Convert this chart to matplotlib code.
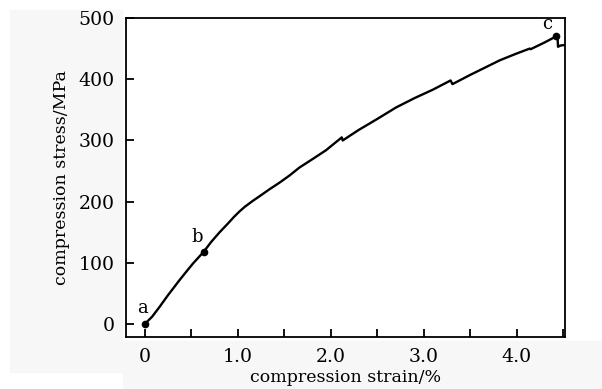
import matplotlib
matplotlib.use('Agg')
import matplotlib.pyplot as plt
from matplotlib.patches import Rectangle
from matplotlib.ticker import MultipleLocator

# stress-strain curve (strain in %, stress in MPa)
strain = [0.0, 0.08, 0.16, 0.25, 0.376, 0.45, 0.52, 0.634, 0.72, 0.806,
          0.9, 0.96, 1.02, 1.08, 1.16, 1.237, 1.34, 1.45, 1.56, 1.667, 1.8, 1.95,
          2.12, 2.13, 2.3, 2.5, 2.705, 2.9, 3.1, 3.29, 3.31, 3.5, 3.7,
          3.82, 4.0, 4.14, 4.15, 4.3, 4.425, 4.44, 4.445, 4.47, 4.52]
stress = [0, 12, 28, 47, 72, 86, 99, 118, 135, 150,
          165, 175, 184, 192, 201, 209, 220, 231, 243, 256, 269, 284,
          305, 300, 317, 335, 354, 369, 383, 398, 392, 407, 422,
          431, 442, 450, 449, 460, 470, 468, 453, 455, 456]

points_x = [0.0, 0.634, 4.425]
points_y = [0, 118, 470]
point_names = ['a', 'b', 'c']
label_x = [-0.02, 0.57, 4.33]
label_y = [27, 143, 490]

plt.rcParams['font.family'] = ['DejaVu Serif']

fig = plt.figure(figsize=(6.02, 3.89), dpi=100)
fig.patch.set_facecolor('white')
# light gray panels behind the labels, as in the scan
fig.patches.append(Rectangle((10 / 602, 1 - 372 / 389), 112 / 602, 362 / 389,
                             transform=fig.transFigure, color='#f7f7f7', zorder=-5))
fig.patches.append(Rectangle((123 / 602, 0), 479 / 602, 48 / 389,
                             transform=fig.transFigure, color='#f7f7f7', zorder=-5))

ax = fig.add_axes([126 / 602, 1 - 337 / 389, 439 / 602, 319 / 389])
ax.plot(strain, stress, color='black', linewidth=1.7)
ax.plot(points_x, points_y, 'o', color='black', markersize=4.5)
for nx, ny, name in zip(label_x, label_y, point_names):
    ax.text(nx, ny, name, fontsize=13, ha='center', va='center')

ax.set_xlim(-0.2, 4.52)
ax.set_ylim(-21, 500)
ax.xaxis.set_minor_locator(MultipleLocator(0.5))
ax.yaxis.set_major_locator(MultipleLocator(100))
ax.set_xticks([0, 1, 2, 3, 4])
ax.set_xticklabels(['0', '1.0', '2.0', '3.0', '4.0'])
ax.tick_params(axis='both', which='both', direction='in', length=6, width=1.3,
               top=False, right=False, labelsize=13.6, pad=8)
for s in ax.spines.values():
    s.set_linewidth(1.3)

ax.set_xlabel('compression strain/%', fontsize=12.5, labelpad=2)
ax.set_ylabel('compression stress/MPa', fontsize=12.5, labelpad=6)

fig.savefig('out.png', dpi=100)
